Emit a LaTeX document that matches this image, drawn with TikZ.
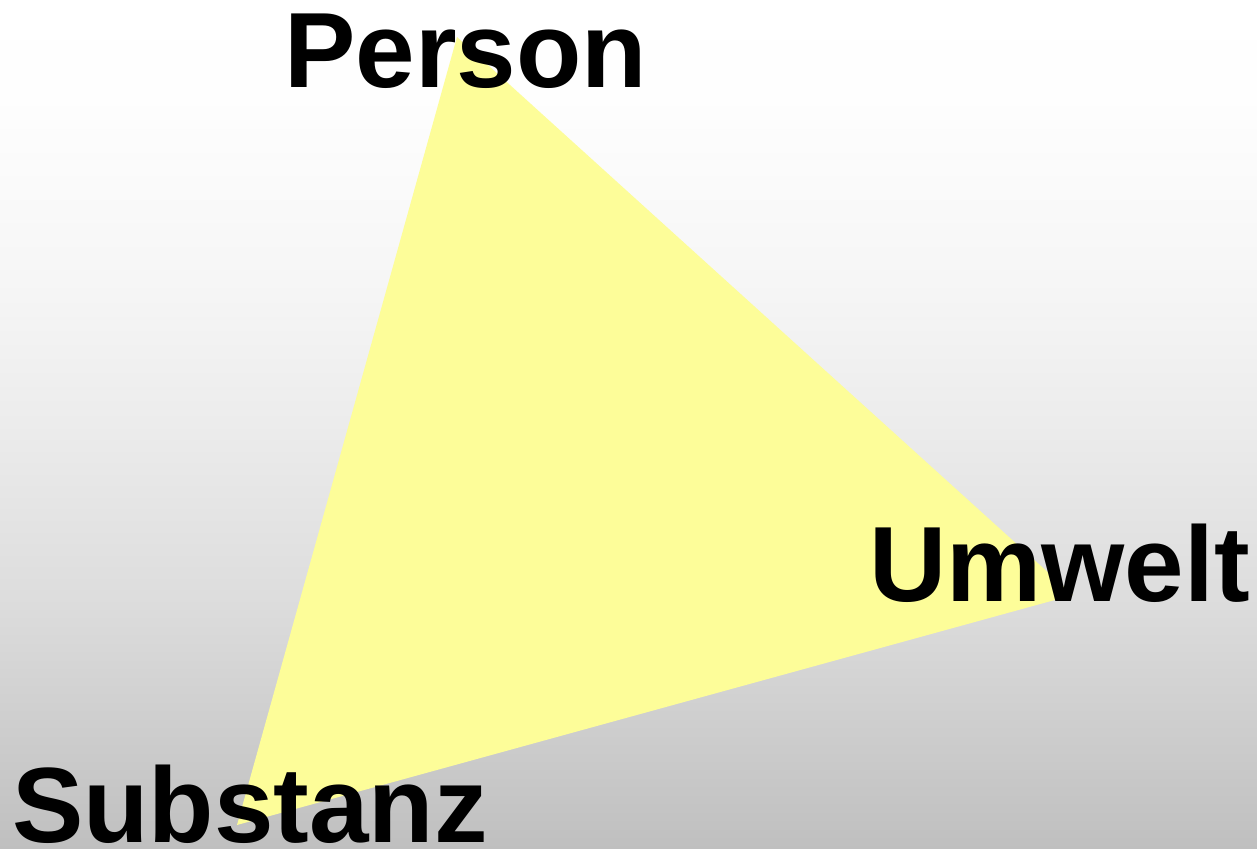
\documentclass[tikz,border=0pt]{standalone}
\usepackage{fontspec}
\setmainfont{Liberation Sans}
\definecolor{paleyellow}{RGB}{253,253,153}
% TikZ maps the path onto 25bp..75bp of the shading
\pgfdeclareverticalshading{backdrop}{100bp}{rgb(0bp)=(0.75,0.75,0.75); rgb(25bp)=(0.75,0.75,0.75);
  rgb(39.6bp)=(0.865,0.865,0.865); rgb(50bp)=(0.925,0.925,0.925); rgb(58.5bp)=(0.965,0.965,0.965);
  rgb(69.1bp)=(0.995,0.995,0.995); rgb(75bp)=(1,1,1); rgb(100bp)=(1,1,1)}
\begin{document}
\begin{tikzpicture}[x=1pt, y=1pt,
    corner/.style={font=\fontsize{107}{107}\selectfont\bfseries, inner sep=0pt, anchor=base west}]
    % Background
    \shade[shading=backdrop] (0,0) rectangle (1257,848);
    \useasboundingbox (0,0) rectangle (1257,848);

    % Vertices
    \coordinate (p) at (457,811);
    \coordinate (u) at (1073,253);
    \coordinate (s) at (237,23);
    \fill[paleyellow] (p) -- (u) -- (s) -- cycle;

    % Labels for vertices
    \node[corner] (person) at (284,760) {Person};
    \node[corner] (umwelt) at (869,246) {Umwelt};
    \node[corner] (substanz) at (12,6) {Substanz};
\end{tikzpicture}
\end{document}
